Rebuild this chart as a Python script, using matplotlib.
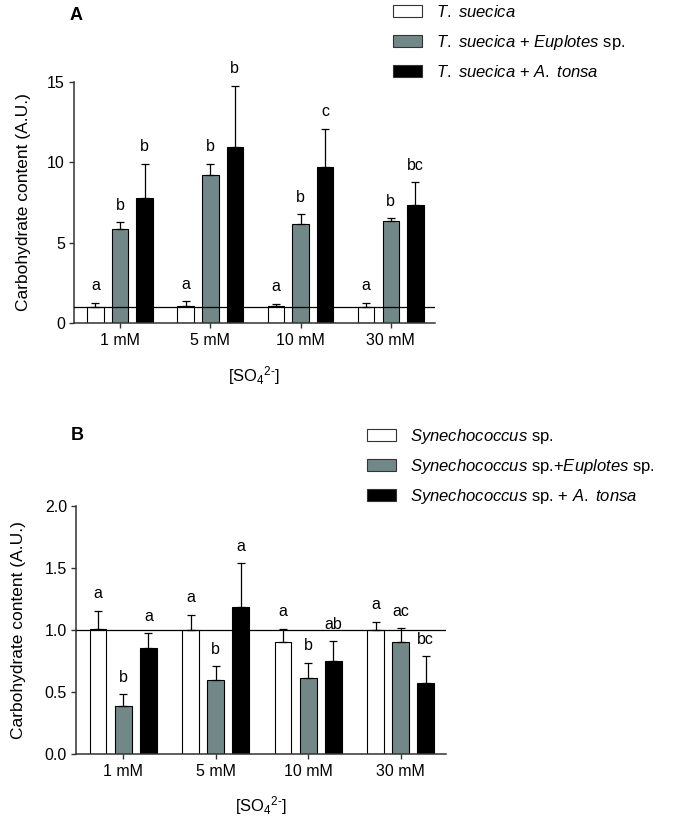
import numpy as np
import matplotlib
matplotlib.use('Agg')
import matplotlib.pyplot as plt
from matplotlib.patches import Patch

plt.rcParams['font.family'] = ['Liberation Sans', 'DejaVu Sans']
plt.rcParams['mathtext.fontset'] = 'custom'
plt.rcParams['mathtext.rm'] = 'Liberation Sans'
plt.rcParams['mathtext.it'] = 'Liberation Sans:italic'

# categories
conc = ['1 mM', '5 mM', '10 mM', '30 mM']

# panel A - T. suecica
a_alone = [1.0, 1.05, 1.05, 1.0]
a_alone_err = [0.27, 0.30, 0.16, 0.25]
a_eup = [5.85, 9.2, 6.15, 6.35]
a_eup_err = [0.42, 0.70, 0.62, 0.17]
a_ton = [7.8, 10.95, 9.7, 7.37]
a_ton_err = [2.1, 3.8, 2.4, 1.4]
a_letters = [['a', 'a', 'a', 'a'], ['b', 'b', 'b', 'b'], ['b', 'b', 'c', 'bc']]
a_labels = [r'$\mathit{T.\ suecica}$',
            r'$\mathit{T.\ suecica}$ + $\mathit{Euplotes}$ sp.',
            r'$\mathit{T.\ suecica}$ + $\mathit{A.\ tonsa}$']

# panel B - Synechococcus sp.
b_alone = [1.01, 1.0, 0.905, 1.0]
b_alone_err = [0.145, 0.125, 0.105, 0.065]
b_eup = [0.386, 0.595, 0.611, 0.905]
b_eup_err = [0.098, 0.113, 0.127, 0.109]
b_ton = [0.859, 1.184, 0.751, 0.573]
b_ton_err = [0.114, 0.356, 0.157, 0.216]
b_letters = [['a', 'a', 'a', 'a'], ['b', 'b', 'b', 'ac'], ['a', 'a', 'ab', 'bc']]
b_labels = [r'$\mathit{Synechococcus}$ sp.',
            r'$\mathit{Synechococcus}$ sp.+$\mathit{Euplotes}$ sp.',
            r'$\mathit{Synechococcus}$ sp. + $\mathit{A.\ tonsa}$']

colors = ['white', '#728888', 'black']

fig = plt.figure(figsize=(6.83, 8.22), dpi=100)
axA = fig.add_axes([0.1083, 0.6071, 0.5286, 0.2932])
axB = fig.add_axes([0.1113, 0.0827, 0.5417, 0.3017])


def draw_panel(ax, series, errs, letters, ylim, yticks, ylabx, xlaby):
    x = np.arange(len(conc))
    offs = [-0.272, 0, 0.272]
    for i in range(3):
        ax.bar(x + offs[i], series[i], width=0.183, color=colors[i],
               edgecolor='black', linewidth=0.8, zorder=2)
        ax.errorbar(x + offs[i], series[i],
                    yerr=[np.zeros(len(conc)), errs[i]],
                    fmt='none', ecolor='black', elinewidth=0.9,
                    capsize=3, capthick=0.9, zorder=3)
        for j in range(len(conc)):
            ax.annotate(letters[i][j], (x[j] + offs[i], series[i][j] + errs[i][j]),
                        xytext=(0, 9), textcoords='offset points',
                        ha='center', va='baseline', fontsize=11.5)
    ax.axhline(1, color='black', linewidth=0.9, zorder=4)
    ax.set_xlim(-0.51, 3.49)
    ax.set_ylim(*ylim)
    ax.set_yticks(yticks)
    ax.set_xticks(x)
    ax.set_xticklabels(conc)
    ax.spines['top'].set_visible(False)
    ax.spines['right'].set_visible(False)
    for s in ['left', 'bottom']:
        ax.spines[s].set_linewidth(1.1)
        ax.spines[s].set_color('#333333')
    ax.tick_params(direction='out', length=3.5, width=1.0, labelsize=11.5,
                   color='#333333', pad=3)
    ax.tick_params(axis='x', pad=4)
    ax.set_ylabel('Carbohydrate content (A.U.)', fontsize=12.5)
    ax.yaxis.set_label_coords(ylabx, 0.5)
    ax.set_xlabel('[SO$_4$$^{2\u2010}$]', fontsize=12)
    ax.xaxis.set_label_coords(0.5, xlaby)


draw_panel(axA, [a_alone, a_eup, a_ton], [a_alone_err, a_eup_err, a_ton_err],
           a_letters, (0, 15), [0, 5, 10, 15], -0.12, -0.17)
draw_panel(axB, [b_alone, b_eup, b_ton], [b_alone_err, b_eup_err, b_ton_err],
           b_letters, (0, 2.0), [0.0, 0.5, 1.0, 1.5, 2.0], -0.134, -0.16)
axB.set_yticklabels(['0.0', '0.5', '1.0', '1.5', '2.0'])

fig.text(76 / 683, 1 - 16 / 822, 'A', fontsize=13, fontweight='bold',
         ha='center', va='center')
fig.text(77 / 683, 1 - 435 / 822, 'B', fontsize=13, fontweight='bold',
         ha='center', va='center')

hA = [Patch(facecolor=c, edgecolor='#333333', linewidth=0.8) for c in colors]
fig.legend(hA, a_labels, loc='upper left', bbox_to_anchor=(393 / 683, 1 - 4 / 822),
           frameon=False, fontsize=12, handlelength=1.75, handleheight=0.75,
           handletextpad=0.85, labelspacing=0.75, borderpad=0, borderaxespad=0)
fig.legend(hA, b_labels, loc='upper left', bbox_to_anchor=(367 / 683, 1 - 427 / 822),
           frameon=False, fontsize=12, handlelength=1.75, handleheight=0.75,
           handletextpad=0.85, labelspacing=0.65, borderpad=0, borderaxespad=0)

plt.savefig('out.png', dpi=100)
